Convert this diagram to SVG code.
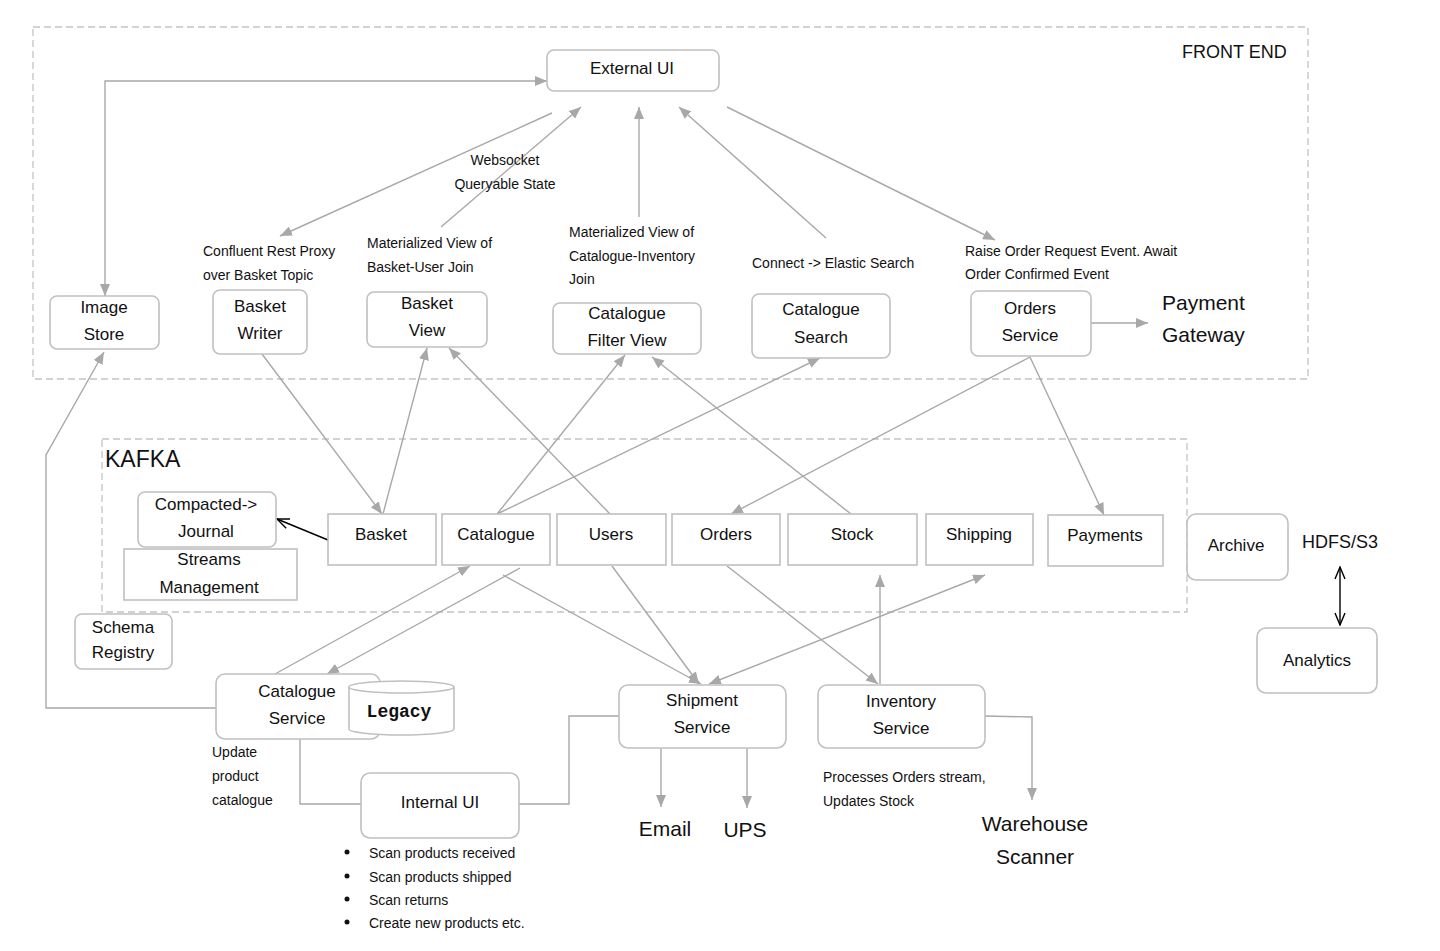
<svg xmlns="http://www.w3.org/2000/svg" width="1440" height="951" viewBox="0 0 1440 951">
<style>
.bg{fill:#fff}
.zone{fill:none;stroke:#c4c4c4;stroke-width:1.3;stroke-dasharray:7,4}
.node{fill:#fff;stroke:#c0c0c0;stroke-width:1.6}
.topic{fill:#fff;stroke:#c0c0c0;stroke-width:1.6}
.conn{fill:none;stroke:#a8a8a8;stroke-width:1.4}
.blk{fill:none;stroke:#000;stroke-width:1.4}
text{font-family:"Liberation Sans",Arial,sans-serif;fill:#111}
.n{font-size:17px;text-anchor:middle}
.l{font-size:14px}
.big{font-size:21px}
.mono{font-family:"Liberation Mono","Courier New",monospace;font-weight:bold;font-size:18px;text-anchor:middle}
</style>
<defs>
<marker id="ah" viewBox="0 0 12 10" refX="12" refY="5" markerWidth="12" markerHeight="10" markerUnits="userSpaceOnUse" orient="auto-start-reverse"><path d="M0,0 L12,5 L0,10 z" fill="#a8a8a8"/></marker>
<marker id="oa" viewBox="0 0 14 12" refX="13" refY="6" markerWidth="14" markerHeight="12" markerUnits="userSpaceOnUse" orient="auto-start-reverse"><path d="M1,1 L13,6 L1,11" fill="none" stroke="#000" stroke-width="1.4"/></marker>
</defs>
<rect class="bg" x="0" y="0" width="1440" height="951"/>

<g id="zones">
<rect class="zone" x="33" y="27" width="1275" height="352"/>
<text x="1182" y="58" style="font-size:18px">FRONT END</text>
<rect class="zone" x="102" y="439" width="1085" height="173"/>
<text x="105" y="467" style="font-size:23px">KAFKA</text>
</g>

<g id="connectors">
<path class="conn" d="M105,296 V81 H547" marker-start="url(#ah)" marker-end="url(#ah)"/>
<path class="conn" d="M552,113 L280,236" marker-end="url(#ah)"/>
<path class="conn" d="M441,227 L581,107" marker-end="url(#ah)"/>
<path class="conn" d="M639,217 L639,107" marker-end="url(#ah)"/>
<path class="conn" d="M826,238 L679,107" marker-end="url(#ah)"/>
<path class="conn" d="M727,107 L995,240" marker-end="url(#ah)"/>
<path class="conn" d="M1091,323 L1148,323" marker-end="url(#ah)"/>
<path class="conn" d="M262,354 L382,514" marker-end="url(#ah)"/>
<path class="conn" d="M383,514 L427,348" marker-end="url(#ah)"/>
<path class="conn" d="M610,514 L449,348" marker-end="url(#ah)"/>
<path class="conn" d="M497,514 L625,355" marker-end="url(#ah)"/>
<path class="conn" d="M497,514 L820,358" marker-end="url(#ah)"/>
<path class="conn" d="M851,514 L652,357" marker-end="url(#ah)"/>
<path class="conn" d="M1030,357 L731,514" marker-end="url(#ah)"/>
<path class="conn" d="M1030,357 L1104,515" marker-end="url(#ah)"/>
<path class="blk" d="M328,540 L277,519" marker-end="url(#oa)"/>
<path class="conn" d="M275,674 L470,566" marker-end="url(#ah)"/>
<path class="conn" d="M520,568 L327,674" marker-end="url(#ah)"/>
<path class="conn" d="M503,575 L701,684" marker-end="url(#ah)"/>
<path class="conn" d="M612,566 L699,684" marker-end="url(#ah)"/>
<path class="conn" d="M709,684 L985,575" marker-start="url(#ah)" marker-end="url(#ah)"/>
<path class="conn" d="M880,684 L880,575" marker-end="url(#ah)"/>
<path class="conn" d="M727,566 L878,684" marker-end="url(#ah)"/>
<path class="conn" d="M216,708 H46 V455 L104,352" marker-end="url(#ah)"/>
<path class="conn" d="M300,739 V804 H361"/>
<path class="conn" d="M519,804 H569 V716 H619"/>
<path class="conn" d="M661,748 V807" marker-end="url(#ah)"/>
<path class="conn" d="M747,748 V808" marker-end="url(#ah)"/>
<path class="conn" d="M985,716 L1032,717 V800" marker-end="url(#ah)"/>
<path class="blk" d="M1340,567 V625" marker-start="url(#oa)" marker-end="url(#oa)"/>
</g>

<g id="labels">
<text class="l" x="505" y="165" text-anchor="middle">Websocket</text>
<text class="l" x="505" y="189" text-anchor="middle">Queryable State</text>
<text class="l" x="203" y="256">Confluent Rest Proxy</text>
<text class="l" x="203" y="280">over Basket Topic</text>
<text class="l" x="367" y="248">Materialized View of</text>
<text class="l" x="367" y="272">Basket-User Join</text>
<text class="l" x="569" y="237">Materialized View of</text>
<text class="l" x="569" y="261">Catalogue-Inventory</text>
<text class="l" x="569" y="284">Join</text>
<text class="l" x="752" y="268">Connect -&gt; Elastic Search</text>
<text class="l" x="965" y="256">Raise Order Request Event. Await</text>
<text class="l" x="965" y="279">Order Confirmed Event</text>
<text class="l" x="212" y="757">Update</text>
<text class="l" x="212" y="781">product</text>
<text class="l" x="212" y="805">catalogue</text>
<text class="l" x="823" y="782">Processes Orders stream,</text>
<text class="l" x="823" y="806">Updates Stock</text>
<circle cx="347" cy="852" r="2.5" fill="#111"/>
<circle cx="347" cy="876" r="2.5" fill="#111"/>
<circle cx="347" cy="899" r="2.5" fill="#111"/>
<circle cx="347" cy="922" r="2.5" fill="#111"/>
<text class="l" x="369" y="858">Scan products received</text>
<text class="l" x="369" y="882">Scan products shipped</text>
<text class="l" x="369" y="905">Scan returns</text>
<text class="l" x="369" y="928">Create new products etc.</text>
</g>

<g id="external-ui"><rect class="node" x="547" y="50" width="172" height="41" rx="7"/><text class="n" x="632" y="74">External UI</text></g>
<g id="image-store"><rect class="node" x="50" y="296" width="109" height="53" rx="7"/><text class="n" x="104" y="313">Image</text><text class="n" x="104" y="340">Store</text></g>
<g id="basket-writer"><rect class="node" x="213" y="290" width="94" height="64" rx="7"/><text class="n" x="260" y="312">Basket</text><text class="n" x="260" y="339">Writer</text></g>
<g id="basket-view"><rect class="node" x="367" y="292" width="120" height="55" rx="7"/><text class="n" x="427" y="309">Basket</text><text class="n" x="427" y="336">View</text></g>
<g id="catalogue-filter-view"><rect class="node" x="553" y="303" width="148" height="51" rx="7"/><text class="n" x="627" y="319">Catalogue</text><text class="n" x="627" y="346">Filter View</text></g>
<g id="catalogue-search"><rect class="node" x="752" y="294" width="138" height="64" rx="7"/><text class="n" x="821" y="315">Catalogue</text><text class="n" x="821" y="343">Search</text></g>
<g id="orders-service"><rect class="node" x="971" y="291" width="120" height="65" rx="7"/><text class="n" x="1030" y="314">Orders</text><text class="n" x="1030" y="341">Service</text></g>
<g id="payment-gateway"><text class="big" x="1162" y="310">Payment</text><text class="big" x="1162" y="342">Gateway</text></g>

<g id="compacted-journal"><rect class="node" x="138" y="492" width="138" height="55" rx="7"/><text class="n" x="206" y="510">Compacted-&gt;</text><text class="n" x="206" y="537">Journal</text></g>
<g id="streams-management"><rect class="topic" x="124" y="549" width="173" height="51"/><text class="n" x="209" y="565">Streams</text><text class="n" x="209" y="593">Management</text></g>
<g id="topic-basket"><rect class="topic" x="328" y="514" width="108" height="51"/><text class="n" x="381" y="540">Basket</text></g>
<g id="topic-catalogue"><rect class="topic" x="442" y="514" width="108" height="51"/><text class="n" x="496" y="540">Catalogue</text></g>
<g id="topic-users"><rect class="topic" x="557" y="514" width="109" height="51"/><text class="n" x="611" y="540">Users</text></g>
<g id="topic-orders"><rect class="topic" x="672" y="514" width="108" height="51"/><text class="n" x="726" y="540">Orders</text></g>
<g id="topic-stock"><rect class="topic" x="788" y="514" width="129" height="51"/><text class="n" x="852" y="540">Stock</text></g>
<g id="topic-shipping"><rect class="topic" x="926" y="514" width="107" height="51"/><text class="n" x="979" y="540">Shipping</text></g>
<g id="topic-payments"><rect class="topic" x="1048" y="515" width="115" height="51"/><text class="n" x="1105" y="541">Payments</text></g>

<g id="archive"><rect class="node" x="1187" y="514" width="101" height="66" rx="9"/><text class="n" x="1236" y="551">Archive</text></g>
<g id="hdfs-s3"><text x="1302" y="548" style="font-size:18px">HDFS/S3</text></g>
<g id="analytics"><rect class="node" x="1257" y="628" width="120" height="65" rx="9"/><text class="n" x="1317" y="666">Analytics</text></g>
<g id="schema-registry"><rect class="node" x="75" y="614" width="97" height="55" rx="7"/><text class="n" x="123" y="633">Schema</text><text class="n" x="123" y="658">Registry</text></g>

<g id="catalogue-service"><rect class="node" x="216" y="674" width="164" height="65" rx="9"/><text class="n" x="297" y="697">Catalogue</text><text class="n" x="297" y="724">Service</text></g>
<g id="legacy"><path class="node" d="M349,687 V729 A52.5,6 0 0 0 454,729 V687"/><ellipse class="node" cx="401.5" cy="687" rx="52.5" ry="6"/><text class="mono" x="399" y="717">Legacy</text></g>
<g id="internal-ui"><rect class="node" x="361" y="773" width="158" height="65" rx="9"/><text class="n" x="440" y="808">Internal UI</text></g>
<g id="shipment-service"><rect class="node" x="619" y="685" width="167" height="63" rx="9"/><text class="n" x="702" y="706">Shipment</text><text class="n" x="702" y="733">Service</text></g>
<g id="inventory-service"><rect class="node" x="818" y="685" width="167" height="63" rx="9"/><text class="n" x="901" y="707">Inventory</text><text class="n" x="901" y="734">Service</text></g>
<g id="email"><text class="big" x="665" y="836" text-anchor="middle">Email</text></g>
<g id="ups"><text class="big" x="745" y="837" text-anchor="middle">UPS</text></g>
<g id="warehouse-scanner"><text class="big" x="1035" y="831" text-anchor="middle">Warehouse</text><text class="big" x="1035" y="864" text-anchor="middle">Scanner</text></g>
</svg>
